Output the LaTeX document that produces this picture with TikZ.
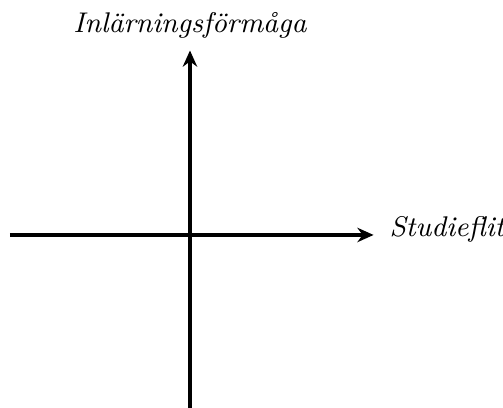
\documentclass[tikz,border=0pt]{standalone}
\usepackage{tikz}
\usetikzlibrary{arrows.meta,calc,positioning}
\definecolor{ink}{HTML}{000000}
\tikzset{
  axis/.style={-{Stealth[length=1.8mm,width=1.6mm]},line width=1pt,draw=ink},
  axislabel/.style={font=\small\itshape,text=ink,inner sep=0pt}
}
\begin{document}
\begin{tikzpicture}[x=1cm,y=1cm]
  \useasboundingbox (-2.111,-1.922) rectangle (3.478,2.611);
  \coordinate (xlo) at (-2,0);
  \coordinate (xhi) at (2.04,0);
  \coordinate (ylo) at (0,-2);
  \coordinate (yhi) at (0,2.05);
  \draw[axis] (xlo) -- (xhi);
  \draw[axis] (ylo) -- (yhi);
  \node[axislabel,anchor=base west] (flit) at ($(xhi)+(0.17,-0.02)$) {Studieflit};
  \node[axislabel,anchor=base] (formaga) at ($(yhi)+(0,0.2)$) {Inlärningsförmåga};
\end{tikzpicture}
\end{document}
